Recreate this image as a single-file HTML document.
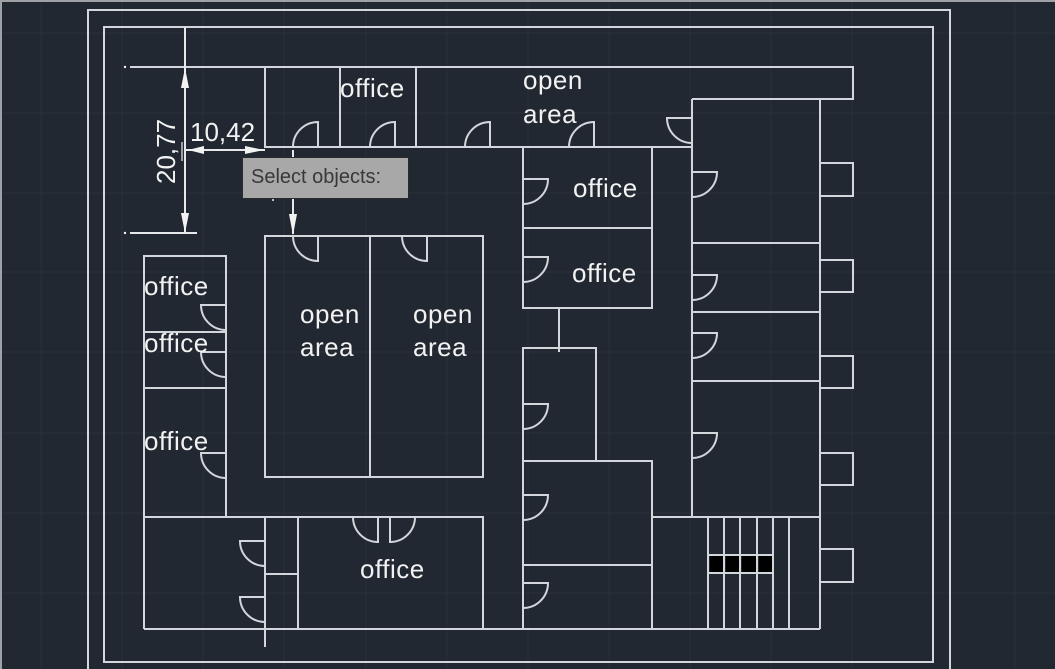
<!DOCTYPE html>
<html>
<head>
<meta charset="utf-8">
<style>
html,body{margin:0;padding:0;background:#212831;}
body{width:1055px;height:669px;overflow:hidden;}
svg{display:block;}
.w{stroke:#d3d6da;stroke-width:2;fill:none;}
.t{font-family:"Liberation Sans",Arial,sans-serif;font-size:26px;fill:#f2f2f2;letter-spacing:0.5px;}
</style>
</head>
<body>
<svg width="1055" height="669" viewBox="0 0 1055 669" xmlns="http://www.w3.org/2000/svg">
<rect x="0" y="0" width="1055" height="669" fill="#212831"/>
<!-- faint grid -->
<g stroke="#29313b" stroke-width="1">
<line x1="122" y1="0" x2="122" y2="669"/><line x1="203" y1="0" x2="203" y2="669"/>
<line x1="284" y1="0" x2="284" y2="669"/><line x1="366" y1="0" x2="366" y2="669"/>
<line x1="447" y1="0" x2="447" y2="669"/><line x1="528" y1="0" x2="528" y2="669"/>
<line x1="609" y1="0" x2="609" y2="669"/><line x1="690" y1="0" x2="690" y2="669"/>
<line x1="771" y1="0" x2="771" y2="669"/><line x1="852" y1="0" x2="852" y2="669"/>
<line x1="1015" y1="0" x2="1015" y2="669"/><line x1="41" y1="0" x2="41" y2="669"/>
<line x1="0" y1="33" x2="1055" y2="33"/><line x1="0" y1="113" x2="1055" y2="113"/>
<line x1="0" y1="193" x2="1055" y2="193"/><line x1="0" y1="272" x2="1055" y2="272"/>
<line x1="0" y1="352" x2="1055" y2="352"/><line x1="0" y1="433" x2="1055" y2="433"/>
<line x1="0" y1="513" x2="1055" y2="513"/><line x1="0" y1="593" x2="1055" y2="593"/>
</g>
<!-- screenshot border top/left -->
<line x1="0" y1="1" x2="1055" y2="1" stroke="#9ea2a6" stroke-width="2"/>
<line x1="1" y1="0" x2="1" y2="669" stroke="#9ea2a6" stroke-width="2"/>

<!-- frames -->
<path class="w" d="M88 675 V10 H950 V675"/>
<rect class="w" x="104" y="27" width="829" height="635"/>

<!-- top walls -->
<path class="w" d="M130 67 H853 V99 H692"/>
<path class="w" d="M265 67 V147 H692"/>
<line class="w" x1="340" y1="67" x2="340" y2="147"/>
<line class="w" x1="416" y1="67" x2="416" y2="147"/>

<!-- right block -->
<line class="w" x1="692" y1="99" x2="692" y2="517"/>
<line class="w" x1="820" y1="99" x2="820" y2="629"/>
<line class="w" x1="692" y1="243" x2="820" y2="243"/>
<line class="w" x1="692" y1="312" x2="820" y2="312"/>
<line class="w" x1="692" y1="381" x2="820" y2="381"/>
<line class="w" x1="652" y1="517" x2="820" y2="517"/>
<!-- windows -->
<path class="w" d="M820 163 H853 V196 H820"/>
<path class="w" d="M820 260 H853 V292 H820"/>
<path class="w" d="M820 356 H853 V388 H820"/>
<path class="w" d="M820 453 H853 V485 H820"/>
<path class="w" d="M820 549 H853 V582 H820"/>
<!-- stairs -->
<g class="w">
<line x1="708" y1="517" x2="708" y2="629"/><line x1="724" y1="517" x2="724" y2="629"/>
<line x1="740" y1="517" x2="740" y2="629"/><line x1="757" y1="517" x2="757" y2="629"/>
<line x1="773" y1="517" x2="773" y2="629"/><line x1="789" y1="517" x2="789" y2="629"/>
<line x1="708" y1="555" x2="773" y2="555"/><line x1="708" y1="573" x2="773" y2="573"/>
</g>
<g fill="#000">
<rect x="710" y="556" width="13" height="16"/><rect x="726" y="556" width="13" height="16"/>
<rect x="742" y="556" width="14" height="16"/><rect x="759" y="556" width="13" height="16"/>
</g>

<!-- middle blocks -->
<rect class="w" x="523" y="147" width="129" height="161"/>
<line class="w" x1="523" y1="228" x2="652" y2="228"/>
<line class="w" x1="559" y1="308" x2="559" y2="352"/>
<path class="w" d="M523 629 V348 H596 V461"/>
<path class="w" d="M523 461 H652 V629"/>
<line class="w" x1="523" y1="565" x2="652" y2="565"/>

<!-- bottom wall -->
<line class="w" x1="144" y1="629" x2="820" y2="629"/>

<!-- open area block -->
<rect class="w" x="265" y="236" width="218" height="241"/>
<line class="w" x1="370" y1="236" x2="370" y2="477"/>

<!-- left column -->
<rect class="w" x="144" y="256" width="82" height="261"/>
<line class="w" x1="144" y1="332" x2="226" y2="332"/>
<line class="w" x1="144" y1="388" x2="226" y2="388"/>

<!-- bottom-left rooms -->
<path class="w" d="M144 629 V517 H483 V629"/>
<line class="w" x1="265" y1="517" x2="265" y2="647"/>
<line class="w" x1="298" y1="517" x2="298" y2="629"/>
<line class="w" x1="265" y1="574" x2="298" y2="574"/>

<!-- doors -->
<g class="w">
<path d="M318 147 V122 A25 25 0 0 0 293 147"/>
<path d="M395 147 V122 A25 25 0 0 0 370 147"/>
<path d="M490 147 V122 A25 25 0 0 0 465 147"/>
<path d="M594 147 V122 A25 25 0 0 0 569 147"/>
<path d="M692 118 H667 A25 25 0 0 0 692 143"/>
<path d="M523 179 H548 A25 25 0 0 1 523 204"/>
<path d="M523 257 H548 A25 25 0 0 1 523 282"/>
<path d="M523 404 H548 A25 25 0 0 1 523 429"/>
<path d="M523 495 H548 A25 25 0 0 1 523 520"/>
<path d="M523 583 H548 A25 25 0 0 1 523 608"/>
<path d="M692 172 H717 A25 25 0 0 1 692 197"/>
<path d="M692 275 H717 A25 25 0 0 1 692 300"/>
<path d="M692 333 H717 A25 25 0 0 1 692 358"/>
<path d="M692 433 H717 A25 25 0 0 1 692 458"/>
<path d="M226 305 H201 A25 25 0 0 0 226 330"/>
<path d="M226 352 H201 A25 25 0 0 0 226 377"/>
<path d="M226 453 H201 A25 25 0 0 0 226 478"/>
<path d="M265 541 H240 A25 25 0 0 0 265 566"/>
<path d="M265 597 H240 A25 25 0 0 0 265 622"/>
<path d="M318 236 V261 A25 25 0 0 1 293 236"/>
<path d="M427 236 V261 A25 25 0 0 1 402 236"/>
<path d="M378 517 V542 A25 25 0 0 1 353 517"/>
<path d="M390 517 V542 A25 25 0 0 0 415 517"/>
</g>

<!-- dimensions -->
<g stroke="#e6e8ea" stroke-width="2" fill="none">
<line x1="185" y1="27" x2="185" y2="233"/>
<line x1="130" y1="233" x2="197" y2="233"/>
<line x1="185" y1="150" x2="265" y2="150"/>
<line x1="293" y1="150" x2="293" y2="234"/>
</g>
<line x1="182" y1="142" x2="182" y2="161" stroke="#9aa0a6" stroke-width="2"/>
<g fill="#f2f2f2">
<polygon points="185,68 181,88 189,88"/>
<polygon points="185,233 181,213 189,213"/>
<polygon points="188,150 204,146 204,154"/>
<polygon points="264,150 245,146 245,154"/>
<polygon points="293,235 289,214 297,214"/>
<circle cx="125" cy="67" r="1.2"/>
<circle cx="125" cy="233" r="1.2"/>
<circle cx="273" cy="200" r="1"/>
</g>
<text x="190" y="141" font-family="Liberation Sans, Arial, sans-serif" font-size="26" fill="#f2f2f2">10,42</text>
<text transform="translate(175,184) rotate(-90)" font-family="Liberation Sans, Arial, sans-serif" font-size="26" fill="#f2f2f2">20,77</text>

<!-- room labels -->
<text class="t" x="340" y="97">office</text>
<text class="t" x="523" y="89">open</text>
<text class="t" x="523" y="123">area</text>
<text class="t" x="573" y="197">office</text>
<text class="t" x="572" y="282">office</text>
<text class="t" x="144" y="295">office</text>
<text class="t" x="144" y="352">office</text>
<text class="t" x="144" y="450">office</text>
<text class="t" x="300" y="323">open</text>
<text class="t" x="300" y="356">area</text>
<text class="t" x="413" y="323">open</text>
<text class="t" x="413" y="356">area</text>
<text class="t" x="360" y="578">office</text>

<!-- tooltip -->
<rect x="242.5" y="157.5" width="166" height="41" fill="#a8a8a8" stroke="#2b2b2b" stroke-width="1"/>
<text x="251" y="183" font-family="Liberation Sans, Arial, sans-serif" font-size="20" fill="#383838">Select objects:</text>
</svg>
</body>
</html>
